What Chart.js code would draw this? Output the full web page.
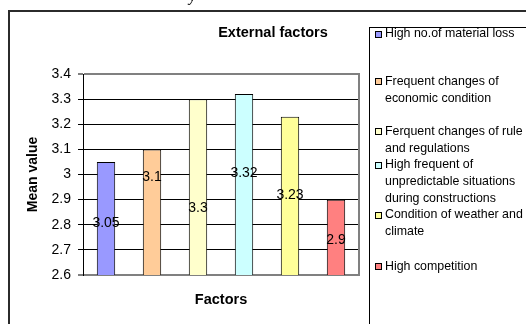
<!DOCTYPE html>
<html><head><meta charset="utf-8">
<script src="https://cdn.jsdelivr.net/npm/chart.js@4"></script>
<style>html,body{margin:0;padding:0;background:#fff;} #wrap{position:relative;width:526px;height:324px;overflow:hidden;}</style>
</head><body><div id="wrap"><canvas id="c" width="526" height="324"></canvas></div>
<script>
// ---- data ----
const categories = ["High no.of material loss", "Frequent changes of economic condition", "Ferquent changes of rule and regulations", "High frequent of unpredictable situations during constructions", "Condition of weather and climate", "High competition"];
const legendLines = [["High no.of material loss"], ["Frequent changes of", "economic condition"], ["Ferquent changes of rule", "and regulations"], ["High frequent of", "unpredictable situations", "during constructions"], ["Condition of weather and", "climate"], ["High competition"]];
const meanValues = [3.05, 3.1, 3.3, 3.32, 3.23, 2.9];
const valueLabels = ["3.05", "3.1", "3.3", "3.32", "3.23", "2.9"];
const yTickValues = [2.6, 2.7, 2.8, 2.9, 3.0, 3.1, 3.2, 3.3, 3.4];
const yTickLabels = ["2.6", "2.7", "2.8", "2.9", "3", "3.1", "3.2", "3.3", "3.4"];
const chartTitle = "External factors";
const yTitle = "Mean value";
const xTitle = "Factors";

// ---- styles ----
const FONT = "'Liberation Sans', Arial, sans-serif";
const barColors = ["#9999FF", "#FFCC99", "#FFFFCC", "#CCFFFF", "#FFFF99", "#FF8080"];
const labelAnchors = [2.807, 2.99, 2.867, 3.007, 2.918, 2.739];
const legendItemTops = [34, 81.7, 131.7, 165, 215, 266.7];
const legendLineStep = 16.8;

Chart.defaults.font.family = FONT;
Chart.defaults.color = "#000";

const decor = {
  id: "decor",
  beforeDraw(chart) {
    const ctx = chart.ctx; ctx.save(); ctx.fillStyle = "#fff"; ctx.fillRect(0, 0, chart.width, chart.height); ctx.restore();
  },
  beforeDatasetsDraw(chart) {
    const {ctx, chartArea: a} = chart;
    ctx.save(); ctx.strokeStyle = "#808080"; ctx.lineWidth = 2;
    ctx.beginPath(); ctx.moveTo(a.right, a.top - 1); ctx.lineTo(a.right, a.bottom + 1); ctx.stroke();
    ctx.restore();
  },
  afterDatasetsDraw(chart) {
    const ctx = chart.ctx; const ys = chart.scales.y; const meta = chart.getDatasetMeta(0);
    ctx.save(); ctx.font = "14px " + FONT; ctx.fillStyle = "#000"; ctx.textAlign = "center"; ctx.textBaseline = "middle";
    meta.data.forEach((bar, i) => { ctx.fillText(valueLabels[i], bar.x, ys.getPixelForValue(labelAnchors[i])); });
    ctx.restore();
  },
  afterDraw(chart) {
    const ctx = chart.ctx;
    ctx.save();
    // outer frame
    ctx.fillStyle = "#2b2b2b"; ctx.fillRect(8, 10, 520, 2); ctx.fillRect(8, 10, 2, 320);
    // cut-off caption fragment
    ctx.font = "italic 16px 'Liberation Serif', serif"; ctx.fillStyle = "#000"; ctx.textBaseline = "alphabetic"; ctx.fillText("y", 189, 0.5);
    // title
    ctx.font = "bold 14.5px " + FONT; ctx.textAlign = "center"; ctx.textBaseline = "middle"; ctx.fillText(chartTitle, 273, 33);
    // legend
    ctx.strokeStyle = "#000"; ctx.lineWidth = 1; ctx.strokeRect(369.5, 27.5, 300, 400);
    ctx.font = "12.4px " + FONT; ctx.textAlign = "left";
    legendLines.forEach((lines, i) => {
      const y0 = legendItemTops[i];
      ctx.fillStyle = barColors[i]; ctx.fillRect(375, Math.round(y0 - 3.5), 7, 7);
      ctx.strokeStyle = "#000"; ctx.strokeRect(375.5, Math.round(y0 - 3.5) + 0.5, 6, 6);
      ctx.fillStyle = "#000";
      lines.forEach((t, j) => ctx.fillText(t, 385, y0 + j * legendLineStep));
    });
    ctx.restore();
  }
};

new Chart(document.getElementById("c"), {
  type: "bar",
  data: {
    labels: categories,
    datasets: [{
      label: yTitle,
      data: meanValues,
      backgroundColor: barColors,
      borderColor: "#000",
      borderWidth: 1,
      barPercentage: 0.4,
      categoryPercentage: 1
    }]
  },
  options: {
    responsive: false,
    devicePixelRatio: 1,
    animation: false,
    layout: {padding: {top: 74, right: 167, left: 0, bottom: 0}},
    plugins: {legend: {display: false}, title: {display: false}, tooltip: {enabled: false}},
    scales: {
      x: {
        ticks: {display: false},
        grid: {display: false, drawTicks: false},
        border: {display: false},
        title: {display: true, text: xTitle, color: "#000", font: {size: 14.5, weight: "bold"}, padding: {top: 0, bottom: 15.3}},
        afterFit: s => { s.height = 49; }
      },
      y: {
        min: 2.6, max: 3.4,
        afterBuildTicks: s => { s.ticks = yTickValues.map(v => ({value: v})); },
        ticks: {
          font: {size: 14}, color: "#000", padding: 7,
          callback: (v) => yTickLabels[yTickValues.findIndex(t => Math.abs(t - v) < 1e-6)]
        },
        grid: {
          color: c => (c.tick && (Math.abs(c.tick.value - 3.4) < 1e-6 || Math.abs(c.tick.value - 2.6) < 1e-6)) ? "#808080" : "#000",
          lineWidth: c => (c.tick && (Math.abs(c.tick.value - 3.4) < 1e-6 || Math.abs(c.tick.value - 2.6) < 1e-6)) ? 2 : 1,
          tickColor: "#000", tickWidth: 1, tickLength: 5, drawTicks: true
        },
        border: {display: true, color: "#000", width: 1},
        title: {display: true, text: yTitle, color: "#000", font: {size: 14, weight: "bold"}, padding: {top: 24.6, bottom: 0}},
        afterFit: s => { s.width = 83; }
      }
    }
  },
  plugins: [decor]
});
</script>
</body></html>
